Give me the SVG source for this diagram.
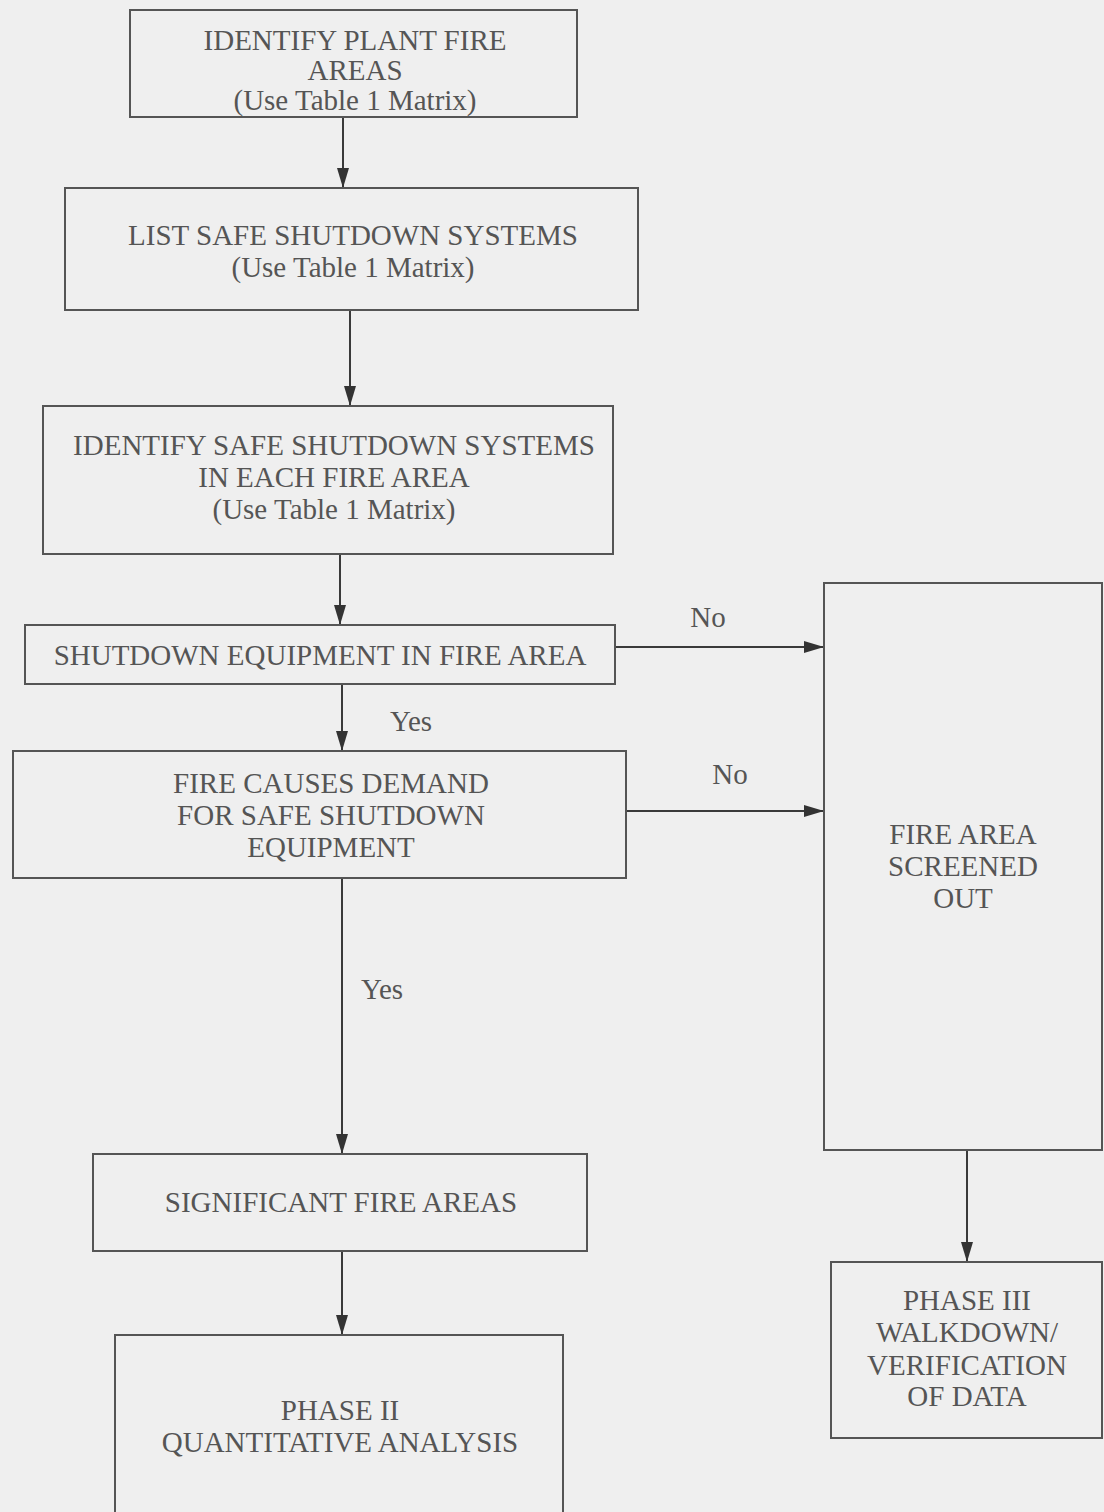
<svg xmlns="http://www.w3.org/2000/svg" width="1104" height="1512" viewBox="0 0 1104 1512">
<defs>
<style>
.box{fill:none;stroke:#555;stroke-width:2}
.t{font-family:"Liberation Serif","Times New Roman",serif;font-size:29px;fill:#555;text-anchor:middle}
.c{stroke:#3a3a3a;stroke-width:2;fill:none;marker-end:url(#ah)}
</style>
<marker id="ah" viewBox="0 0 20 12" refX="20" refY="6" markerWidth="20" markerHeight="12" orient="auto" markerUnits="userSpaceOnUse">
<path d="M0,0 L20,6 L0,12 Z" fill="#333"/>
</marker>
</defs>
<rect width="1104" height="1512" fill="#efefef"/>
<g id="connectors">
<line class="c" x1="343" y1="117" x2="343" y2="188"/>
<line class="c" x1="350" y1="310" x2="350" y2="406"/>
<line class="c" x1="340" y1="554" x2="340" y2="625"/>
<line class="c" x1="342" y1="684" x2="342" y2="751"/>
<line class="c" x1="342" y1="878" x2="342" y2="1154"/>
<line class="c" x1="342" y1="1251" x2="342" y2="1335"/>
<line class="c" x1="615" y1="647" x2="824" y2="647"/>
<line class="c" x1="626" y1="811" x2="824" y2="811"/>
<line class="c" x1="967" y1="1150" x2="967" y2="1262"/>
<text class="t" x="708" y="627">No</text>
<text class="t" x="730" y="784">No</text>
<text class="t" x="411" y="731">Yes</text>
<text class="t" x="382" y="999">Yes</text>
</g>
<g id="n1"><rect class="box" x="130" y="10" width="447" height="107"/>
<text class="t" x="355" y="50">IDENTIFY PLANT FIRE</text>
<text class="t" x="355" y="80">AREAS</text>
<text class="t" x="355" y="110">(Use Table 1 Matrix)</text></g>
<g id="n2"><rect class="box" x="65" y="188" width="573" height="122"/>
<text class="t" x="353" y="245">LIST SAFE SHUTDOWN SYSTEMS</text>
<text class="t" x="353" y="277">(Use Table 1 Matrix)</text></g>
<g id="n3"><rect class="box" x="43" y="406" width="570" height="148"/>
<text class="t" x="334" y="455">IDENTIFY  SAFE SHUTDOWN SYSTEMS</text>
<text class="t" x="334" y="487">IN EACH FIRE AREA</text>
<text class="t" x="334" y="519">(Use Table 1 Matrix)</text></g>
<g id="n4"><rect class="box" x="25" y="625" width="590" height="59"/>
<text class="t" x="320" y="665">SHUTDOWN EQUIPMENT IN FIRE AREA</text></g>
<g id="n5"><rect class="box" x="13" y="751" width="613" height="127"/>
<text class="t" x="331" y="793">FIRE CAUSES DEMAND</text>
<text class="t" x="331" y="825">FOR SAFE SHUTDOWN</text>
<text class="t" x="331" y="857">EQUIPMENT</text></g>
<g id="n6"><rect class="box" x="824" y="583" width="278" height="567"/>
<text class="t" x="963" y="844">FIRE AREA</text>
<text class="t" x="963" y="876">SCREENED</text>
<text class="t" x="963" y="908">OUT</text></g>
<g id="n7"><rect class="box" x="93" y="1154" width="494" height="97"/>
<text class="t" x="341" y="1212">SIGNIFICANT FIRE AREAS</text></g>
<g id="n8"><rect class="box" x="115" y="1335" width="448" height="190"/>
<text class="t" x="340" y="1420">PHASE II</text>
<text class="t" x="340" y="1452">QUANTITATIVE ANALYSIS</text></g>
<g id="n9"><rect class="box" x="831" y="1262" width="271" height="176"/>
<text class="t" x="967" y="1310">PHASE III</text>
<text class="t" x="967" y="1342">WALKDOWN/</text>
<text class="t" x="967" y="1375">VERIFICATION</text>
<text class="t" x="967" y="1406">OF DATA</text></g>
</svg>
